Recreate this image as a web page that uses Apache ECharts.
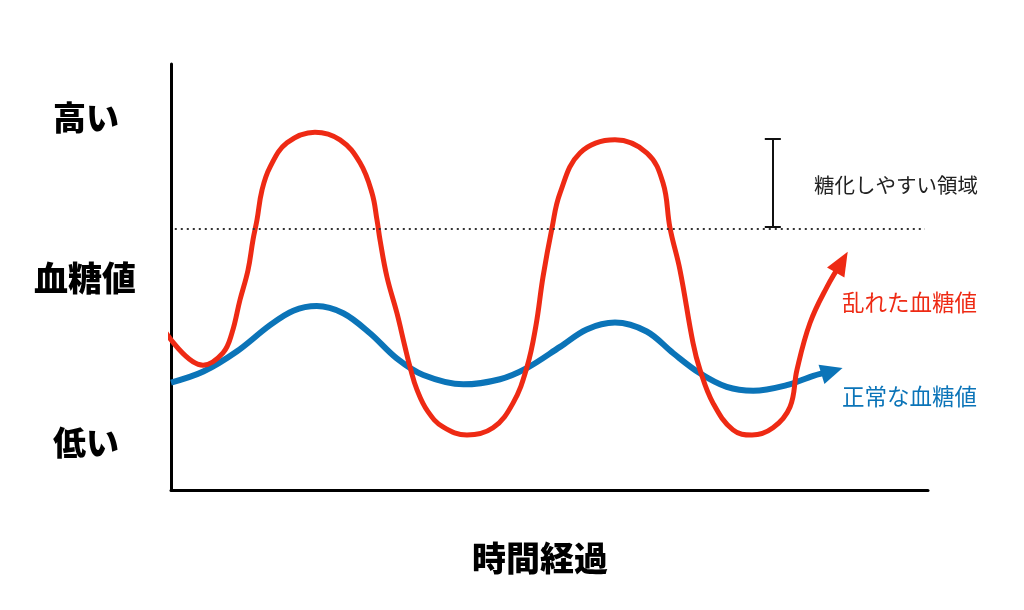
<!DOCTYPE html>
<html>
<head>
<meta charset="utf-8">
<script src="https://cdn.jsdelivr.net/npm/echarts@6/dist/echarts.min.js"></script>
<style>
	html, body { margin: 0; padding: 0; background: #fff; }
	#chart { width: 1024px; height: 610px; }
</style>
</head>
<body>
<div id="chart"></div>
<script>
// 乱れた血糖値 (時間, 血糖値) — 読み取り値
var redCurve = [
	[-0.66, 36.9], [4.23, 29.3], [6.87, 32.2], [8.06, 36.9], [9.11, 44.6],
	[10.17, 51.6], [10.83, 58.7], [11.36, 63.4], [12.02, 70.4], [13.08, 75.8],
	[15.32, 81.5], [19.02, 84.0], [22.33, 82.2], [24.97, 76.8], [26.55, 69.7],
	[27.21, 63.4], [27.61, 58.7], [28.53, 50.0], [29.85, 41.5], [30.91, 33.6],
	[31.57, 28.9], [32.50, 23.5], [33.90, 18.5], [35.93, 14.8], [39.10, 12.9],
	[42.54, 14.6], [45.18, 20.4], [47.03, 28.9], [48.20, 38.5], [49.14, 50.0],
	[50.33, 61.5], [51.39, 69.7], [54.03, 79.1], [58.65, 82.2], [62.88, 79.1],
	[64.99, 72.1], [65.92, 61.5], [67.24, 51.6], [68.96, 34.5], [69.88, 28.2],
	[71.60, 20.4], [74.24, 14.1], [76.75, 12.9], [79.52, 14.6], [81.77, 19.5],
	[82.69, 28.2], [84.41, 39.2], [86.66, 47.7], [88.60, 53.5]
];

// 正常な血糖値
var blueCurve = [
	[0.0, 25.2], [4.27, 27.8], [8.68, 32.5], [13.08, 38.7], [16.16, 42.1],
	[19.25, 43.2], [22.76, 41.5], [26.29, 36.8], [29.82, 30.9], [33.33, 27.0],
	[38.61, 24.8], [43.46, 26.0], [46.99, 28.6], [51.39, 33.6], [54.91, 37.7],
	[58.65, 39.3], [62.84, 37.2], [66.35, 32.1], [69.88, 27.4], [73.41, 24.2],
	[76.92, 23.3], [81.33, 24.6], [84.85, 26.8], [87.32, 27.9]
];

// 糖化しやすい領域の境界 (点線) と範囲
var thresholdY = 61.3;
var thresholdX = [0.5, 99.6];
var bracketX = 79.5;
var bracketY = [61.7, 82.4];
var bracketCap = 1.06;

var yLabels = ['高い', '血糖値', '低い'];
var xTitle = '時間経過';
var zoneText = '糖化しやすい領域';
var redName = '乱れた血糖値';
var blueName = '正常な血糖値';

var RED = '#ee2a14';
var BLUE = '#0b74b8';
var FONT = '"Noto Sans CJK JP", "Noto Sans", sans-serif';

function withArrow(points, rotate, size) {
	var out = points.map(function (p) { return p.slice(); });
	var last = out.pop();
	out.push({ value: last, symbol: 'triangle', symbolSize: size, symbolRotate: rotate });
	return out;
}

var myChart = echarts.init(document.getElementById('chart'));

var axisCommon = {
	type: 'value',
	min: 0,
	max: 100,
	axisLine: { show: true, lineStyle: { color: '#000', width: 3 } },
	axisTick: { show: false },
	axisLabel: { show: false },
	splitLine: { show: false }
};

var option = {
	backgroundColor: '#fff',
	animation: false,
	grid: { left: 171, right: 96, top: 64, bottom: 120 },
	xAxis: axisCommon,
	yAxis: axisCommon,
	series: [
		{
			type: 'line',
			name: 'threshold',
			data: [],
			silent: true,
			markLine: {
				silent: true,
				symbol: 'none',
				label: { show: false },
				lineStyle: { type: [2, 4], color: '#333', width: 2 },
				data: [
					[{ coord: [thresholdX[0], thresholdY] }, { coord: [thresholdX[1], thresholdY] }]
				]
			}
		},
		{
			type: 'line',
			name: 'bracket',
			data: [],
			silent: true,
			markLine: {
				silent: true,
				symbol: 'none',
				label: { show: false },
				lineStyle: { type: 'solid', color: '#111', width: 2 },
				data: [
					[{ coord: [bracketX, bracketY[0]] }, { coord: [bracketX, bracketY[1]] }],
					[{ coord: [bracketX - bracketCap, bracketY[0]] }, { coord: [bracketX + bracketCap, bracketY[0]] }],
					[{ coord: [bracketX - bracketCap, bracketY[1]] }, { coord: [bracketX + bracketCap, bracketY[1]] }]
				]
			}
		},
		{
			type: 'line',
			name: blueName,
			data: withArrow(blueCurve, -73, [20, 22]),
			smooth: 0.35,
			clip: false,
			showSymbol: true,
			symbol: 'none',
			lineStyle: { color: BLUE, width: 6 },
			itemStyle: { color: BLUE }
		},
		{
			type: 'line',
			name: redName,
			data: withArrow(redCurve, -30, [20, 24]),
			smooth: 0.4,
			clip: false,
			showSymbol: true,
			symbol: 'none',
			lineStyle: { color: RED, width: 5 },
			itemStyle: { color: RED }
		}
	],
	graphic: [
		{ type: 'text', x: 86, y: 117, style: { text: yLabels[0], font: '900 33px ' + FONT, fill: '#000', align: 'center', verticalAlign: 'middle' } },
		{ type: 'text', x: 85, y: 278, style: { text: yLabels[1], font: '900 34px ' + FONT, fill: '#000', align: 'center', verticalAlign: 'middle' } },
		{ type: 'text', x: 86, y: 442, style: { text: yLabels[2], font: '900 33px ' + FONT, fill: '#000', align: 'center', verticalAlign: 'middle' } },
		{ type: 'text', x: 540, y: 558, style: { text: xTitle, font: '900 34px ' + FONT, fill: '#000', align: 'center', verticalAlign: 'middle' } },
		{ type: 'text', x: 814, y: 185, style: { text: zoneText, font: '400 20.5px ' + FONT, fill: '#222', align: 'left', verticalAlign: 'middle' } },
		{ type: 'text', x: 842, y: 302, style: { text: redName, font: '400 22.5px ' + FONT, fill: RED, align: 'left', verticalAlign: 'middle' } },
		{ type: 'text', x: 842, y: 396, style: { text: blueName, font: '400 22.5px ' + FONT, fill: BLUE, align: 'left', verticalAlign: 'middle' } }
	]
};

myChart.setOption(option);
</script>
</body>
</html>
